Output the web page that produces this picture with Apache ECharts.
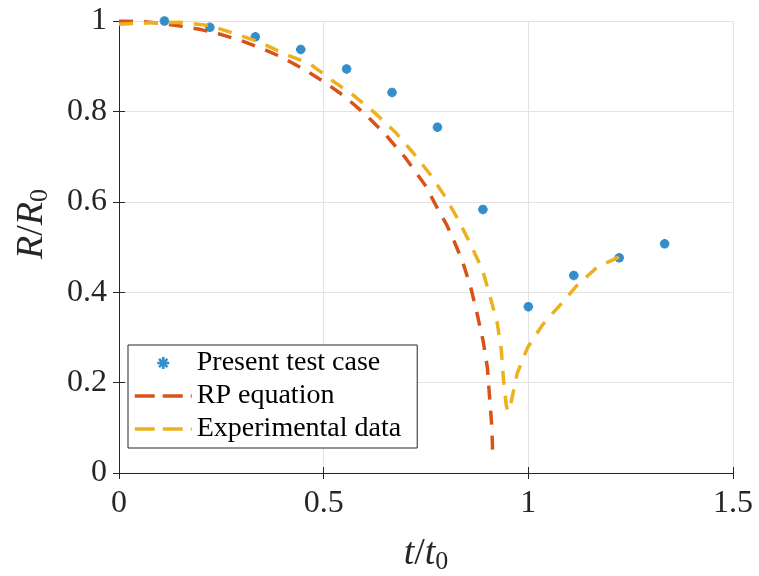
<!DOCTYPE html>
<html>
<head>
<meta charset="utf-8">
<script src="https://cdn.jsdelivr.net/npm/echarts@6/dist/echarts.min.js"></script>
<style>
  html, body { margin: 0; padding: 0; background: #ffffff; }
  #chart { width: 759px; height: 576px; }
</style>
</head>
<body>
<div id="chart"></div>
<script>
// Simulated bubble radius (present test case)
const caseT = [0.111, 0.222, 0.333, 0.444, 0.556, 0.667, 0.778, 0.889, 1.000, 1.111, 1.222, 1.333];
const caseR = [1.000, 0.986, 0.965, 0.937, 0.894, 0.842, 0.765, 0.583, 0.368, 0.437, 0.476, 0.507];

// Rayleigh–Plesset solution
const rpT = [0, 0.05, 0.10, 0.15, 0.20, 0.25, 0.30, 0.35, 0.40, 0.45, 0.50, 0.55, 0.60, 0.65, 0.70, 0.75,
             0.78, 0.80, 0.82, 0.84, 0.86, 0.875, 0.89, 0.90, 0.905, 0.91, 0.912, 0.913];
const rpR = [1.000, 0.999, 0.995, 0.989, 0.981, 0.970, 0.956, 0.939, 0.919, 0.894, 0.866, 0.834, 0.795, 0.750, 0.697, 0.634,
             0.582, 0.550, 0.510, 0.466, 0.408, 0.352, 0.290, 0.233, 0.172, 0.112, 0.070, 0.035];

// Measured radius
const expT = [0, 0.08, 0.15, 0.22, 0.28, 0.345, 0.40, 0.467, 0.52, 0.575, 0.626, 0.675, 0.719, 0.76, 0.797, 0.829,
              0.86, 0.888, 0.907, 0.924, 0.934, 0.939, 0.946, 0.95, 0.958, 0.973, 0.998, 1.034, 1.078, 1.12, 1.169, 1.222];
const expR = [0.993, 0.996, 0.997, 0.990, 0.973, 0.953, 0.929, 0.905, 0.869, 0.834, 0.796, 0.754, 0.708, 0.661, 0.611, 0.560,
              0.504, 0.449, 0.389, 0.332, 0.272, 0.210, 0.150, 0.136, 0.157, 0.221, 0.277, 0.327, 0.372, 0.416, 0.456, 0.478];

const seriesNames = ['Present test case', 'RP equation', 'Experimental data'];
const xTicks = [0, 0.5, 1, 1.5];
const yTicks = [0, 0.2, 0.4, 0.6, 0.8, 1];

const pairs = (xs, ys) => xs.map((x, i) => [x, ys[i]]);

const FONT = '"Liberation Serif", "DejaVu Serif", serif';
const INK = '#262626';
const GRID = '#e3e3e3';
const BLUE = '#0072BD', RED = '#D95319', GOLD = '#EDB120';
// eight-armed asterisk drawn as strokes
const asterisk = 'path://M5 0L5 10M0 5L10 5M1.5 1.5L8.5 8.5M8.5 1.5L1.5 8.5';

const tickFmt = v => {
  const hit = xTicks.concat(yTicks).find(t => Math.abs(t - v) < 1e-9);
  return hit === undefined ? '' : String(hit);
};

const nameRich = {
  i: { fontFamily: FONT, fontStyle: 'italic', fontSize: 38, color: INK },
  n: { fontFamily: FONT, fontSize: 38, color: INK },
  s: { fontFamily: FONT, fontSize: 26, color: INK, padding: [16, 0, 0, 0] }
};

const frameAxis = (position, min, max, interval) => ({
  type: 'value', min, max, interval, position,
  axisLine: { show: true, lineStyle: { color: INK, width: 1 } },
  axisTick: { show: true, inside: true, length: 6, lineStyle: { color: INK } },
  axisLabel: { show: false }, splitLine: { show: false }
});

const chart = echarts.init(document.getElementById('chart'), null, { renderer: 'canvas' });

chart.setOption({
  backgroundColor: '#ffffff',
  animation: false,
  grid: { left: 119, top: 21, right: 26, bottom: 103, containLabel: false, outerBoundsMode: 'none' },
  xAxis: [
    {
      type: 'value', min: 0, max: 1.5, interval: 0.5, position: 'bottom',
      name: '{i|t}{n|/}{i|t}{s|0}', nameLocation: 'middle', nameGap: 60,
      nameTextStyle: { rich: nameRich },
      axisLine: { show: true, lineStyle: { color: INK, width: 1 } },
      axisTick: { show: true, inside: true, length: 6, lineStyle: { color: INK } },
      axisLabel: { show: true, margin: 15, fontFamily: FONT, fontSize: 32, color: INK, formatter: tickFmt },
      splitLine: { show: true, lineStyle: { color: GRID, width: 1 } }
    },
    frameAxis('top', 0, 1.5, 0.5)
  ],
  yAxis: [
    {
      type: 'value', min: 0, max: 1, interval: 0.2, position: 'left',
      name: '{i|R}{n|/}{i|R}{s|0}', nameLocation: 'middle', nameGap: 66, nameRotate: 90,
      nameTextStyle: { rich: nameRich, padding: [0, 0, 0, 46] },
      axisLine: { show: true, lineStyle: { color: INK, width: 1 } },
      axisTick: { show: true, inside: true, length: 6, lineStyle: { color: INK } },
      axisLabel: { show: true, margin: 12, fontFamily: FONT, fontSize: 32, color: INK, formatter: tickFmt },
      splitLine: { show: true, lineStyle: { color: GRID, width: 1 } }
    },
    frameAxis('right', 0, 1, 0.2)
  ],
  legend: {
    orient: 'vertical',
    left: 128, top: 345,
    padding: [4, 16, 5, 5],
    itemWidth: 57, itemHeight: 12, itemGap: 5,
    backgroundColor: '#ffffff',
    borderColor: INK, borderWidth: 1,
    textStyle: { fontFamily: FONT, fontSize: 28, color: '#000000' },
    data: [
      { name: seriesNames[0], itemStyle: { borderWidth: 2.6 } },
      { name: seriesNames[1], itemStyle: { opacity: 0 }, lineStyle: { type: [20, 8], width: 3.5 } },
      { name: seriesNames[2], itemStyle: { opacity: 0 }, lineStyle: { type: [20, 8], width: 3.5 } }
    ]
  },
  series: [
    {
      name: seriesNames[0], type: 'scatter',
      data: pairs(caseT, caseR),
      symbol: asterisk, symbolSize: 9.5,
      itemStyle: { color: BLUE, borderColor: BLUE, borderWidth: 3 }
    },
    {
      name: seriesNames[1], type: 'line',
      data: pairs(rpT, rpR),
      showSymbol: false, symbol: 'none',
      lineStyle: { color: RED, width: 3.5, type: [14, 11] },
      itemStyle: { color: RED }
    },
    {
      name: seriesNames[2], type: 'line',
      data: pairs(expT, expR),
      showSymbol: false, symbol: 'none',
      lineStyle: { color: GOLD, width: 3.5, type: [14, 11] },
      itemStyle: { color: GOLD }
    }
  ]
});
</script>
</body>
</html>
